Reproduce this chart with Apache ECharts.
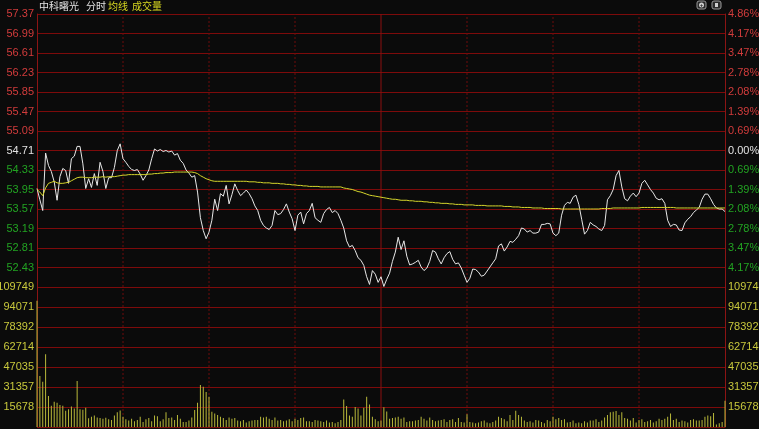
<!DOCTYPE html>
<html><head><meta charset="utf-8">
<script src="https://cdn.jsdelivr.net/npm/echarts@6/dist/echarts.min.js"></script>
<style>html,body{margin:0;padding:0;background:#0b0b0b;}#c{width:759px;height:429px;}</style>
</head><body><div id="c"></div>
<script>
// ---------- data ----------
const stockName = '中科曙光';
const headerLabels = ['分时', '均线', '成交量'];
const prevClose = 54.71;
const priceMin = 52.05, priceMax = 57.37, priceStep = 0.38;
const volumeMax = 109749;
const volumeSteps = 7;
const halfHourIdx = [30, 60, 90, 150, 180, 210]; // dashed vertical separators
const middayIdx = 120;                            // 11:30 / 13:00 boundary

const price = [
53.97,53.75,53.54,54.66,54.42,54.30,54.10,53.74,54.20,54.36,
54.32,54.07,54.55,54.60,54.79,54.79,54.45,53.97,54.16,53.99,
54.26,54.03,54.48,54.30,53.97,54.18,54.18,54.38,54.71,54.84,
54.55,54.48,54.40,54.34,54.32,54.34,54.25,54.13,54.22,54.33,
54.55,54.74,54.70,54.73,54.69,54.71,54.68,54.70,54.62,54.65,
54.52,54.46,54.33,54.27,54.19,54.22,53.90,53.40,53.15,52.99,
53.12,53.35,53.76,53.54,53.87,53.82,54.03,53.67,53.85,54.06,
53.93,53.83,53.88,53.94,53.87,53.77,53.63,53.54,53.35,53.25,
53.20,53.17,53.25,53.54,53.46,53.48,53.56,53.67,53.51,53.38,
53.15,53.45,53.51,53.28,53.48,53.54,53.68,53.40,53.35,53.31,
53.48,53.56,53.60,53.50,53.54,53.48,53.35,53.20,52.95,52.83,
52.86,52.76,52.62,52.57,52.47,52.25,52.10,52.37,52.30,52.14,
52.25,52.06,52.20,52.32,52.55,52.73,53.02,52.78,52.95,52.65,
52.48,52.50,52.53,52.57,52.44,52.37,52.42,52.55,52.76,52.73,
52.60,52.50,52.62,52.70,52.74,52.59,52.50,52.52,52.42,52.28,
52.14,52.22,52.40,52.39,52.34,52.26,52.28,52.36,52.44,52.52,
52.60,52.85,52.89,52.75,52.83,52.94,52.92,52.98,53.05,53.20,
53.18,53.12,53.15,53.10,53.10,53.12,53.27,53.27,53.29,53.28,
53.10,53.05,53.10,53.45,53.64,53.70,53.68,53.80,53.84,53.66,
53.37,53.08,53.15,53.31,53.26,53.23,53.18,53.15,53.25,53.75,
53.83,53.95,54.22,54.32,54.00,53.77,53.73,53.82,53.88,53.81,
53.88,54.07,54.13,54.04,53.95,53.88,53.78,53.75,53.77,53.68,
53.35,53.23,53.27,53.26,53.16,53.15,53.30,53.37,53.42,53.50,
53.55,53.60,53.76,53.86,53.86,53.77,53.66,53.59,53.57,53.57,
53.52];

const avgPrice = [
53.95,53.90,53.83,53.98,54.07,54.09,54.11,54.08,54.07,54.07,
54.08,54.09,54.12,54.15,54.18,54.19,54.19,54.18,54.18,54.18,
54.19,54.19,54.19,54.20,54.19,54.20,54.20,54.20,54.21,54.22,
54.23,54.23,54.24,54.24,54.24,54.24,54.24,54.24,54.24,54.25,
54.25,54.26,54.26,54.27,54.27,54.28,54.28,54.28,54.29,54.29,
54.29,54.29,54.29,54.29,54.29,54.28,54.26,54.22,54.19,54.16,
54.14,54.12,54.11,54.11,54.11,54.11,54.11,54.11,54.11,54.11,
54.11,54.11,54.11,54.11,54.10,54.10,54.10,54.09,54.09,54.08,
54.08,54.08,54.07,54.07,54.07,54.06,54.06,54.05,54.05,54.04,
54.04,54.03,54.03,54.02,54.02,54.01,54.01,54.01,54.01,54.00,
54.00,54.00,54.00,54.00,54.00,54.00,54.00,53.98,53.97,53.96,
53.95,53.93,53.91,53.90,53.88,53.86,53.84,53.83,53.82,53.81,
53.80,53.79,53.78,53.77,53.76,53.76,53.75,53.74,53.74,53.74,
53.73,53.73,53.72,53.72,53.72,53.71,53.71,53.70,53.70,53.69,
53.69,53.68,53.68,53.68,53.67,53.67,53.66,53.66,53.66,53.65,
53.65,53.65,53.65,53.64,53.64,53.64,53.64,53.63,53.63,53.63,
53.63,53.63,53.63,53.62,53.62,53.62,53.61,53.61,53.61,53.60,
53.60,53.60,53.60,53.59,53.59,53.59,53.59,53.58,53.58,53.58,
53.58,53.58,53.58,53.57,53.57,53.57,53.57,53.57,53.57,53.57,
53.57,53.57,53.57,53.57,53.57,53.57,53.57,53.58,53.58,53.58,
53.58,53.59,53.59,53.59,53.59,53.59,53.59,53.59,53.59,53.59,
53.59,53.60,53.60,53.60,53.60,53.60,53.60,53.60,53.60,53.60,
53.60,53.60,53.60,53.59,53.59,53.59,53.59,53.59,53.59,53.59,
53.59,53.59,53.59,53.59,53.59,53.59,53.59,53.59,53.59,53.59,
53.59];

const volume = [
99000,40000,35500,57000,24300,16700,19800,19000,17200,16700,
12800,14000,16000,14500,36000,14000,13500,15000,6800,8000,
9000,7500,7000,6500,7200,6000,5500,9000,11500,13000,
8000,6000,5000,6500,4500,5500,8000,4000,6000,7000,
4500,9000,8500,4500,6000,11500,7000,7500,5500,9500,
6500,4000,4000,5000,7500,13300,19000,33000,31500,27500,
23800,12000,10500,9500,8000,7000,5500,7500,6500,7000,
5000,4500,5500,3500,4500,5000,5500,5500,8000,7500,
8000,6500,5500,7500,5000,5500,4500,5000,6000,4500,
6500,5500,7000,7500,4500,4500,4000,5500,5000,4500,
4000,5000,3500,4000,3000,4000,5500,21600,16500,9000,
8000,15700,14500,9000,15000,23800,17700,8000,6000,4500,
5000,15400,12200,6500,7000,7500,8000,6500,7500,4000,
4500,4500,5000,5500,8000,6500,5000,7500,5500,4500,
5000,5500,6000,4000,5500,6000,4000,7000,4000,3500,
10000,4000,3500,3000,3500,4500,5000,3500,3000,4000,
5000,8000,7000,6000,4500,9500,5500,12800,9500,8000,
5000,4000,4500,3500,5500,5000,4000,3000,5500,4500,
8000,6000,7000,5500,6000,3500,4000,5000,3000,3500,
3000,4500,3500,5000,5000,6000,4000,5000,7500,9500,
11500,12000,12500,9500,11500,7000,6500,5000,7000,3500,
5500,6000,4000,4500,5500,3500,4500,6500,5500,6500,
8000,10500,5500,6500,4000,5000,4500,3500,5500,6000,
5000,5000,5500,8000,9000,8500,11000,2000,3000,4000,
20500];

// trading minutes 09:30-11:30, 13:01-15:00
function buildTimes() {
  const out = [];
  const pad = n => (n < 10 ? '0' : '') + n;
  for (let m = 9 * 60 + 30; m <= 11 * 60 + 30; m++) out.push(pad(Math.floor(m / 60)) + ':' + pad(m % 60));
  for (let m = 13 * 60 + 1; m <= 15 * 60; m++) out.push(pad(Math.floor(m / 60)) + ':' + pad(m % 60));
  return out;
}
const times = buildTimes();

// ---------- styles ----------
const BG = '#0b0b0b';
const RED = '#d23c3c', GREEN = '#22a322', WHITE = '#e2e2e2', YEL = '#c8c83c';
const GRIDC = '#7d0b0b', VGRID = '#6e0c0c', MIDC = '#8c1010', AXISC = '#8c1414';
const FONT = '"Liberation Sans", Arial, sans-serif';
const CJK = '"Noto Sans CJK SC", sans-serif';

function priceClass(v) {
  const d = v - prevClose;
  if (Math.abs(d) < 0.001) return 'z';
  return d > 0 ? 'u' : 'd';
}
const rich = {
  u: { color: RED, fontSize: 11, fontFamily: FONT },
  d: { color: GREEN, fontSize: 11, fontFamily: FONT },
  z: { color: WHITE, fontSize: 11, fontFamily: FONT }
};

function hiddenCat(grid) {
  return { type: 'category', gridIndex: grid, data: times, boundaryGap: false,
    axisLine: { show: false }, axisTick: { show: false }, axisLabel: { show: false }, splitLine: { show: false } };
}

// vertical separators drawn as thin two-point line series through the axes
function vline(idx, xAxisIndex, yAxisIndex, lo, hi, color, type) {
  return { type: 'line', xAxisIndex, yAxisIndex, silent: true, showSymbol: false, symbol: 'none',
    data: [[idx, lo], [idx, hi]], lineStyle: { color: color, width: 1, type: type }, z: 1, animation: false };
}
const gridSeries = [];
halfHourIdx.forEach(i => {
  gridSeries.push(vline(i, 0, 0, priceMin, priceMax, VGRID, [2, 2]));
  gridSeries.push(vline(i, 1, 2, 0, volumeMax, VGRID, [2, 2]));
});
gridSeries.push(vline(middayIdx, 0, 0, priceMin, priceMax, MIDC, 'solid'));
gridSeries.push(vline(middayIdx, 1, 2, 0, volumeMax, MIDC, 'solid'));

const chart = echarts.init(document.getElementById('c'), null, { renderer: 'canvas' });
chart.setOption({
  backgroundColor: BG,
  animation: false,
  textStyle: { fontFamily: FONT },
  grid: [
    { left: 37, right: 34, top: 14, height: 273, outerBoundsMode: 'none' },
    { left: 37, right: 34, top: 287, height: 140, outerBoundsMode: 'none' }
  ],
  xAxis: [hiddenCat(0), hiddenCat(1)],
  yAxis: [
    { type: 'value', gridIndex: 0, position: 'left', min: priceMin, max: priceMax, interval: priceStep,
      axisLine: { show: true, lineStyle: { color: AXISC } }, axisTick: { show: false },
      splitLine: { show: true, lineStyle: { color: GRIDC, width: 1 } },
      axisLabel: { showMinLabel: false, margin: 3, rich: rich,
        formatter: v => '{' + priceClass(v) + '|' + v.toFixed(2) + '}' } },
    { type: 'value', gridIndex: 0, position: 'right', min: priceMin, max: priceMax, interval: priceStep,
      axisLine: { show: true, lineStyle: { color: AXISC } }, axisTick: { show: false },
      splitLine: { show: false },
      axisLabel: { showMinLabel: false, margin: 3, rich: rich,
        formatter: v => '{' + priceClass(v) + '|' + (Math.abs(v - prevClose) / prevClose * 100).toFixed(2) + '%}' } },
    { type: 'value', gridIndex: 1, position: 'left', min: 0, max: volumeMax, interval: volumeMax / volumeSteps,
      axisLine: { show: true, lineStyle: { color: AXISC } }, axisTick: { show: false },
      splitLine: { show: true, lineStyle: { color: GRIDC, width: 1 } },
      axisLabel: { showMinLabel: false, margin: 3, color: YEL, fontSize: 11, fontFamily: FONT,
        formatter: v => String(Math.round(v)) } },
    { type: 'value', gridIndex: 1, position: 'right', min: 0, max: volumeMax, interval: volumeMax / volumeSteps,
      axisLine: { show: true, lineStyle: { color: AXISC } }, axisTick: { show: false },
      splitLine: { show: false },
      axisLabel: { showMinLabel: false, margin: 3, color: YEL, fontSize: 11, fontFamily: FONT,
        formatter: v => String(Math.round(v)) } }
  ],
  series: gridSeries.concat([
    { name: '价格', type: 'line', xAxisIndex: 0, yAxisIndex: 0, data: price, showSymbol: false,
      lineStyle: { color: '#e8e8e8', width: 1 }, z: 3 },
    { name: '均线', type: 'line', xAxisIndex: 0, yAxisIndex: 0, data: avgPrice, showSymbol: false,
      lineStyle: { color: '#d6d62c', width: 1 }, z: 4 },
    { name: '成交量', type: 'bar', xAxisIndex: 1, yAxisIndex: 2, data: volume, barWidth: 1, clip: false,
      itemStyle: { color: '#b9b93a' }, z: 3 }
  ]),
  graphic: [
    { type: 'text', left: 39, top: 1, style: { text: stockName, fill: WHITE, font: '10px ' + CJK } },
    { type: 'text', left: 86, top: 1, style: { text: headerLabels[0], fill: WHITE, font: '10px ' + CJK } },
    { type: 'text', left: 108, top: 1, style: { text: headerLabels[1], fill: '#d8d820', font: '10px ' + CJK } },
    { type: 'text', left: 132, top: 1, style: { text: headerLabels[2], fill: '#d8d820', font: '10px ' + CJK } },
    { type: 'rect', shape: { x: 697, y: 1, width: 9, height: 8, r: 2 }, style: { fill: '#2a2a2a', stroke: '#9a9a9a', lineWidth: 1 } },
    { type: 'circle', shape: { cx: 701.5, cy: 5, r: 2.5 }, style: { fill: '#cfcfcf' } },
    { type: 'text', x: 701.5, y: 5, style: { text: '+', fill: '#2a2a2a', font: 'bold 6px ' + FONT, align: 'center', verticalAlign: 'middle' } },
    { type: 'rect', shape: { x: 712, y: 1, width: 9, height: 8, r: 2 }, style: { fill: '#2a2a2a', stroke: '#9a9a9a', lineWidth: 1 } },
    { type: 'rect', shape: { x: 715, y: 3, width: 3, height: 4 }, style: { fill: '#cfcfcf' } }
  ]
});
</script>
</body></html>
